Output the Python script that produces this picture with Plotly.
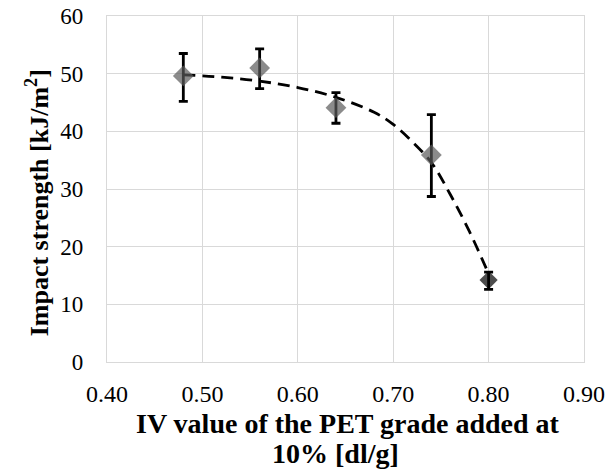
import plotly.graph_objects as go

iv_values = [0.48, 0.56, 0.64, 0.74, 0.80]
impact_strength = [49.6, 51.0, 44.1, 35.9, 14.2]
error_plus = [3.9, 3.3, 2.6, 7.0, 1.4]
error_minus = [4.4, 3.6, 2.7, 7.2, 1.6]
marker_colors = ["#5a5a5a", "#5a5a5a", "#5a5a5a", "#5a5a5a", "#000000"]

trend_x = [0.48, 0.52, 0.56, 0.60, 0.64, 0.68, 0.70, 0.72, 0.74, 0.76, 0.78, 0.80]
trend_y = [49.8, 49.4, 48.7, 47.6, 45.9, 43.3, 41.2, 38.2, 34.6, 29.0, 22.6, 15.3]

x_ticks = [0.40, 0.50, 0.60, 0.70, 0.80, 0.90]
y_ticks = [0, 10, 20, 30, 40, 50, 60]

x_title_lines = ["IV value of the PET grade added at", "10% [dl/g]"]
y_title = "Impact strength [kJ/m<sup>2</sup>]"

font_family = "Liberation Serif, Times New Roman, serif"

fig = go.Figure()
fig.add_trace(go.Scatter(
    x=trend_x, y=trend_y, mode="lines", line_shape="spline",
    line=dict(color="#000000", width=2.8, dash="12px,7px"),
    hoverinfo="skip", showlegend=False,
))
fig.add_trace(go.Scatter(
    x=iv_values, y=impact_strength, mode="markers",
    marker=dict(symbol="diamond", size=[16, 16, 16, 16, 14], color=marker_colors,
                line=dict(width=0)),
    error_y=dict(type="data", symmetric=False, array=error_plus, arrayminus=error_minus,
                 color="#000000", thickness=2.8, width=4.5),
    showlegend=False,
))

axis_common = dict(
    showgrid=True, gridcolor="#d9d9d9", gridwidth=1,
    showline=True, linecolor="#d9d9d9", linewidth=1.2, mirror=True,
    zeroline=False, ticks="", ticklabeloverflow="allow", automargin=False,
)

title_font = dict(family=font_family, size=28, weight="bold", color="#000000")

fig.update_layout(
    width=608, height=475,
    margin=dict(l=107, r=24, t=16, b=113),
    paper_bgcolor="white", plot_bgcolor="white",
    font=dict(family=font_family, color="#000000"),
    xaxis=dict(
        range=[0.40, 0.90], tickvals=x_ticks, tickformat=".2f",
        tickfont=dict(family=font_family, size=24, color="#000000"),
        ticklabelstandoff=10,
        **axis_common,
    ),
    yaxis=dict(
        range=[0, 60], tickvals=y_ticks,
        tickfont=dict(family=font_family, size=23, color="#000000"),
        ticklabelstandoff=18,
        **axis_common,
    ),
    annotations=[
        dict(text=x_title_lines[0], xref="paper", yref="paper", x=0.505, y=-0.179,
             xanchor="center", yanchor="middle", showarrow=False, font=title_font),
        dict(text=x_title_lines[1], xref="paper", yref="paper", x=0.480, y=-0.265,
             xanchor="center", yanchor="middle", showarrow=False, font=title_font),
        dict(text=y_title, xref="paper", yref="paper", x=-0.145, y=0.461,
             xanchor="center", yanchor="middle", showarrow=False, textangle=-90,
             font=dict(family=font_family, size=26, weight="bold", color="#000000")),
    ],
)

# remove the browser's default 8px body margin so the figure fills the window
fig.write_html("out.html",
               config={"displayModeBar": False},
               post_script="document.body.style.margin='0';document.body.style.overflow='hidden';")
